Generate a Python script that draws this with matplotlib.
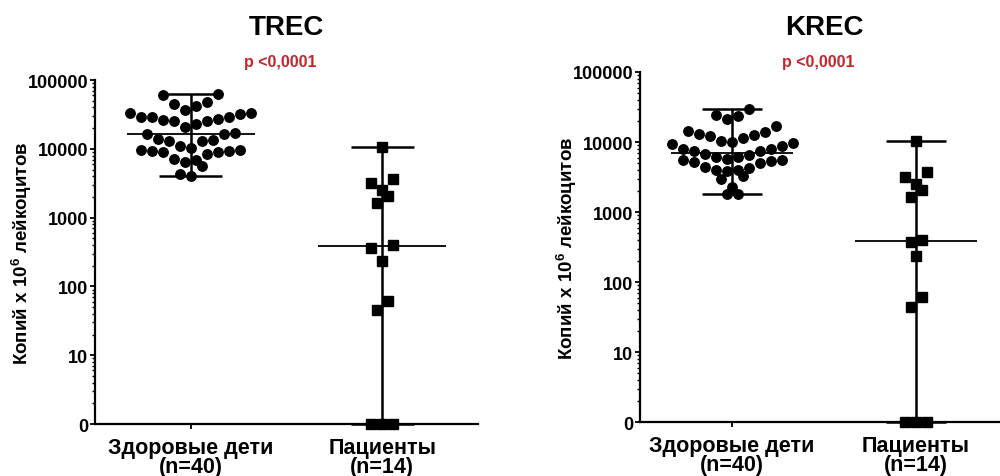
import numpy as np
import matplotlib
matplotlib.use('Agg')
import matplotlib.pyplot as plt
from matplotlib.ticker import LogLocator, FuncFormatter, NullFormatter

plt.rcParams['font.family'] = ['Liberation Sans', 'DejaVu Sans']
plt.rcParams['font.weight'] = 'bold'
plt.rcParams['mathtext.fontset'] = 'custom'
plt.rcParams['mathtext.bf'] = 'Liberation Sans:bold'
plt.rcParams['mathtext.rm'] = 'Liberation Sans:bold'

# Данные (копий на 10^6 лейкоцитов)
groups = ['Здоровые дети\n(n=40)', 'Пациенты\n(n=14)']

trec_healthy = [62000, 60000, 47900, 45300, 41500, 37000, 33100, 31700, 28900, 26800,
                25400, 23200, 20800, 25100, 26500, 28900, 29000, 33000, 16600, 14000,
                13000, 10900, 13100, 13600, 16300, 17000, 9700, 9290, 8990, 8490,
                6950, 5570, 6430, 7180, 9000, 9200, 9520, 10400, 3980, 4350]
trec_patients = [10700, 3590, 3190, 2550, 2060, 1650, 397, 367, 233, 62, 45, 0, 0, 0]

krec_healthy = [29600, 23300, 21300, 24300, 16700, 13800, 12600, 13000, 14200, 11300,
                9900, 9360, 7940, 7950, 8680, 9680, 10400, 12300, 7360, 6520,
                6040, 5580, 5530, 5230, 5010, 5400, 5720, 6050, 6740, 7370,
                4350, 4020, 3890, 4030, 4250, 3240, 2960, 2250, 1800, 1820]
krec_patients = [10250, 3690, 3130, 2510, 2060, 1650, 398, 369, 233, 62, 44, 0, 0, 0]

p_text = 'p <0,0001'
ylabel = r'Копий x 10$^{\mathbf{6}}$ лейкоцитов'


def floor_zero(vals):
    # как в Prism: нули рисуются на нижней границе оси ("0")
    v = np.asarray(vals, dtype=float)
    return np.where(v > 0, v, 1.0)


def row_offsets(ax, yvals, row_px=16, step_px=11):
    """Раскладка точек рядами (как в Prism): близкие значения - в один ряд,
    меньшие ближе к центру. Возвращает смещения по x в единицах данных."""
    y = floor_zero(yvals)
    ypix = ax.transData.transform(np.column_stack([np.zeros_like(y), y]))[:, 1]
    x0 = ax.transData.transform([[0, 1], [1, 1]])[:, 0]
    px_per_unit = x0[1] - x0[0]
    order = np.argsort(-ypix)
    offs = np.zeros_like(y)
    rows, cur = [], [order[0]]
    for idx in order[1:]:
        if ypix[cur[0]] - ypix[idx] <= row_px:
            cur.append(idx)
        else:
            rows.append(cur)
            cur = [idx]
    rows.append(cur)
    for row in rows:
        n = len(row)
        slots = (np.arange(n) - (n - 1) / 2) * step_px
        slots = slots[np.argsort(np.abs(slots), kind='stable')]
        by_val = sorted(row, key=lambda k: ypix[k])
        for k, s in zip(by_val, slots):
            offs[k] = s / px_per_unit
    return offs


def draw_panel(fig, rect, healthy, patients, title):
    ax = fig.add_axes(rect)
    ax.set_yscale('log')
    ax.set_xlim(-0.5, 1.5)
    ax.set_ylim(1, 1e5)

    for i, (vals, mk, ms) in enumerate([(healthy, 'o', 6.8), (patients, 's', 6.5)]):
        v = np.asarray(vals, dtype=float)
        yv = floor_zero(v)
        ax.plot(i + row_offsets(ax, v), yv, ls='none', marker=mk, ms=ms,
                color='black', mec='black', zorder=2, clip_on=False)
        # медиана и размах
        med = max(np.median(v), 1)
        lo, hi = yv.min(), v.max()
        ax.vlines(i, lo, hi, color='black', lw=1.8, zorder=3, clip_on=False)
        ax.hlines([lo, hi], i - 0.165, i + 0.165, color='black', lw=1.8, zorder=3, clip_on=False)
        ax.hlines(med, i - 0.333, i + 0.333, color='black', lw=1.3, zorder=3, clip_on=False)

    ax.set_xticks([0, 1])
    ax.set_xticklabels(groups, fontsize=15.5, fontweight='bold', linespacing=0.85)
    ax.set_ylabel(ylabel, fontsize=13.5, fontweight='bold')

    ax.yaxis.set_major_locator(LogLocator(base=10, numticks=10))
    ax.yaxis.set_minor_locator(LogLocator(base=10, subs=np.arange(2, 10), numticks=20))
    ax.yaxis.set_major_formatter(FuncFormatter(lambda y, _: '0' if y <= 1 else f'{int(round(y))}'))
    ax.yaxis.set_minor_formatter(NullFormatter())
    ax.tick_params(axis='y', which='major', labelsize=13, length=3.5, width=1.3, pad=1.5)
    ax.tick_params(axis='y', which='minor', length=2, width=1)
    ax.tick_params(axis='x', length=3.5, width=1.3, pad=6)

    for s in ['top', 'right']:
        ax.spines[s].set_visible(False)
    for s in ['left', 'bottom']:
        ax.spines[s].set_linewidth(1.6)
        ax.spines[s].set_color('black')

    cx = rect[0] + rect[2] / 2
    fig.text(cx, 0.941, title, ha='center', va='center', fontsize=20, fontweight='bold')
    fig.text(cx - 0.006, 0.868, p_text, ha='center', va='center', fontsize=11.5,
             fontweight='bold', color='#c1272d')
    return ax


fig = plt.figure(figsize=(10, 4.77), dpi=100, facecolor='white')
ax1 = draw_panel(fig, [0.095, 0.109, 0.383, 0.721], trec_healthy, trec_patients, 'TREC')
ax2 = draw_panel(fig, [0.640, 0.113, 0.368, 0.734], krec_healthy, krec_patients, 'KREC')
ax1.yaxis.set_label_coords(-0.158, 0.5)
ax2.yaxis.set_label_coords(-0.166, 0.5)

fig.savefig('out.png', dpi=100, facecolor='white')
